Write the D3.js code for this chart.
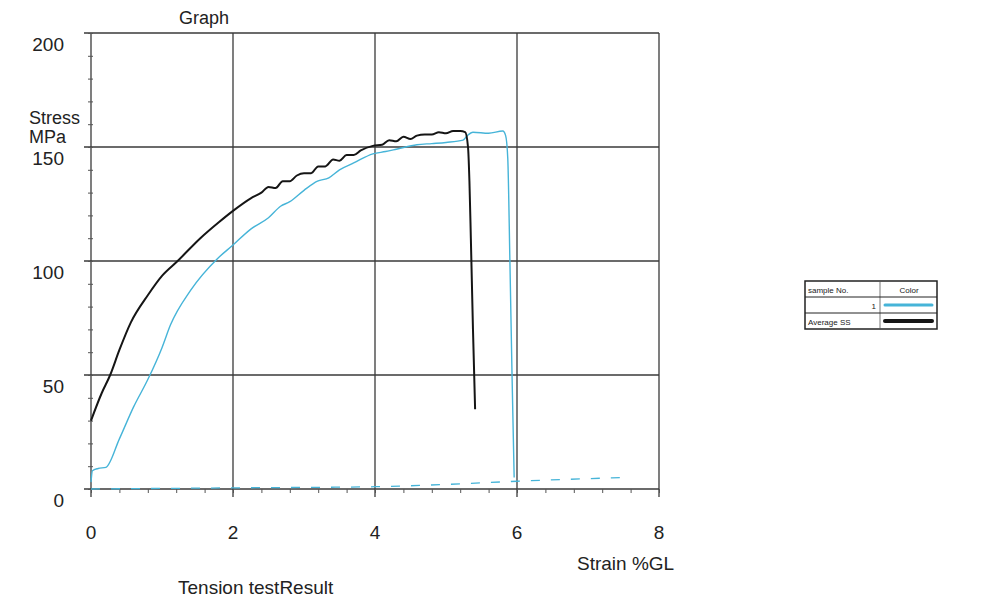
<!DOCTYPE html>
<html>
<head>
<meta charset="utf-8">
<script src="https://cdn.jsdelivr.net/npm/d3@7"></script>
<style>
  body { margin: 0; background: #fff; }
  text { font-family: "Liberation Sans", Arial, sans-serif; fill: #222; }
</style>
</head>
<body>
<div id="chart"></div>
<script>
/* Values */
var xTicks = [0, 2, 4, 6, 8];
var yTicks = [0, 50, 100, 150, 200];

var averageStrain = [0, 0.15, 0.27, 0.4, 0.56, 0.8, 1.0, 1.22, 1.54, 1.8, 2.0, 2.25, 2.4, 2.5, 2.6, 2.7, 2.8, 2.9, 3.0, 3.1, 3.2, 3.3, 3.41, 3.5, 3.6, 3.7, 3.8, 3.97, 4.1, 4.2, 4.3, 4.4, 4.5, 4.59, 4.7, 4.8, 4.9, 5.0, 5.1, 5.2, 5.27, 5.31, 5.33, 5.35, 5.38, 5.41];
var averageStress = [30, 42, 50, 61, 73, 85, 93.5, 100, 110, 117, 122, 127.5, 130, 132.5, 132, 135, 135, 137.5, 138.5, 138.5, 141.5, 141.5, 144.5, 144, 146.5, 146.5, 148.5, 150.5, 151, 153, 152.5, 154.5, 153.5, 155, 155.5, 155.5, 156.5, 156, 157, 157, 156.5, 150, 135, 110, 70, 35];

var sampleStrain = [0, 0.02, 0.1, 0.21, 0.4, 0.6, 0.8, 1.0, 1.12, 1.4, 1.78, 2.0, 2.25, 2.5, 2.67, 2.8, 3.0, 3.19, 3.35, 3.5, 3.7, 3.97, 4.15, 4.3, 4.59, 4.8, 5.0, 5.24, 5.3, 5.38, 5.6, 5.8, 5.84, 5.87, 5.9, 5.93, 5.96];
var sampleStress = [3, 8, 9, 9.5, 22, 36, 48, 62, 72, 87, 101, 107, 114, 119, 124, 126, 131, 135, 136.5, 140, 143, 147, 148, 149, 151, 151.5, 152, 153, 155, 156.5, 156, 157, 155, 145, 100, 50, 5];

var baseStrain = [0, 2, 4, 5, 6, 7.45];
var baseStress = [0, 0.5, 1, 2, 3.4, 5];

var legendNames = ["1", "Average SS"];
var legendColors = ["#46b4d8", "#151515"];

var svgWidth = 1002, svgHeight = 601;
var plotLeft = 91, plotRight = 659, plotTop = 33, plotBottom = 489;

var svg = d3.select("#chart").append("svg")
    .attr("width", svgWidth)
    .attr("height", svgHeight);

var x = d3.scaleLinear().domain([0, 8]).range([plotLeft, plotRight]);
var y = d3.scaleLinear().domain([0, 200]).range([plotBottom, plotTop]);

/* Grid lines, slightly poking out past the frame */
svg.append("g").selectAll("line")
    .data(xTicks)
    .enter().append("line")
    .attr("x1", d => x(d)).attr("x2", d => x(d))
    .attr("y1", plotTop).attr("y2", plotBottom + 8)
    .attr("stroke", "#3a3a3a").attr("stroke-width", 1.3);

svg.append("g").selectAll("line")
    .data(yTicks)
    .enter().append("line")
    .attr("x1", plotLeft - 7).attr("x2", plotRight)
    .attr("y1", d => y(d)).attr("y2", d => y(d))
    .attr("stroke", "#3a3a3a").attr("stroke-width", 1.3);

/* Minor ticks */
svg.append("g")
    .attr("transform", "translate(0," + plotBottom + ")")
    .call(d3.axisBottom(x).tickValues(d3.range(0, 8.01, 0.4)).tickSize(4).tickFormat(""))
    .call(g => g.select(".domain").remove())
    .selectAll("line").attr("stroke", "#555");

svg.append("g")
    .attr("transform", "translate(" + (plotLeft + 2) + ",0)")
    .call(d3.axisLeft(y).tickValues(d3.range(0, 201, 10)).tickSize(5).tickFormat(""))
    .call(g => g.select(".domain").remove())
    .selectAll("line").attr("stroke", "#555");

/* Tick labels */
svg.append("g").selectAll("text")
    .data(xTicks)
    .enter().append("text")
    .attr("x", d => x(d))
    .attr("y", 539)
    .attr("text-anchor", "middle")
    .attr("font-size", 19)
    .text(d => d);

svg.append("g").selectAll("text")
    .data(yTicks)
    .enter().append("text")
    .attr("x", 64)
    .attr("y", d => y(d) + 18)
    .attr("text-anchor", "end")
    .attr("font-size", 19)
    .text(d => d);

/* Titles */
svg.append("text").attr("x", 204).attr("y", 24).attr("text-anchor", "middle")
    .attr("font-size", 18).text("Graph");
svg.append("text").attr("x", 29).attr("y", 124).attr("font-size", 18).text("Stress");
svg.append("text").attr("x", 29).attr("y", 143).attr("font-size", 18).text("MPa");
svg.append("text").attr("x", 577).attr("y", 570).attr("font-size", 19).text("Strain %GL");
svg.append("text").attr("x", 178).attr("y", 594).attr("font-size", 19).text("Tension testResult");

/* Curves */
var line = d3.line()
    .x(d => x(d[0]))
    .y(d => y(d[1]))
    .curve(d3.curveMonotoneX);

svg.append("path")
    .datum(d3.zip(baseStrain, baseStress))
    .attr("d", line)
    .attr("fill", "none")
    .attr("stroke", legendColors[0])
    .attr("stroke-width", 1.3)
    .attr("stroke-dasharray", "9,11");

svg.append("path")
    .datum(d3.zip(sampleStrain, sampleStress))
    .attr("d", line)
    .attr("fill", "none")
    .attr("stroke", legendColors[0])
    .attr("stroke-width", 1.4);

svg.append("path")
    .datum(d3.zip(averageStrain, averageStress))
    .attr("d", line)
    .attr("fill", "none")
    .attr("stroke", legendColors[1])
    .attr("stroke-width", 2);

/* Legend table */
var lg = svg.append("g").attr("transform", "translate(805,281)");
lg.append("rect").attr("width", 132).attr("height", 48)
    .attr("fill", "#fff").attr("stroke", "#222").attr("stroke-width", 1.5);
lg.append("line").attr("x1", 75).attr("x2", 75).attr("y1", 0).attr("y2", 48)
    .attr("stroke", "#555").attr("stroke-width", 0.8);
lg.selectAll("line.row")
    .data([16, 32])
    .enter().append("line")
    .attr("class", "row")
    .attr("x1", 0).attr("x2", 132)
    .attr("y1", d => d).attr("y2", d => d)
    .attr("stroke", "#222").attr("stroke-width", 1);
lg.append("text").attr("x", 3).attr("y", 12).attr("font-size", 8).text("sample No.");
lg.append("text").attr("x", 104).attr("y", 12).attr("font-size", 8)
    .attr("text-anchor", "middle").text("Color");

var rows = lg.selectAll("g.row")
    .data(d3.zip(legendNames, legendColors))
    .enter().append("g")
    .attr("class", "row")
    .attr("transform", (d, i) => "translate(0," + (16 + i * 16) + ")");
rows.append("text")
    .attr("x", (d, i) => i == 0 ? 71 : 3)
    .attr("y", 12)
    .attr("text-anchor", (d, i) => i == 0 ? "end" : "start")
    .attr("font-size", 8)
    .text(d => d[0]);
rows.append("line")
    .attr("x1", 80).attr("x2", 127)
    .attr("y1", 8).attr("y2", 8)
    .attr("stroke", d => d[1])
    .attr("stroke-width", (d, i) => i == 0 ? 3 : 4)
    .attr("stroke-linecap", "round");
</script>
</body>
</html>
